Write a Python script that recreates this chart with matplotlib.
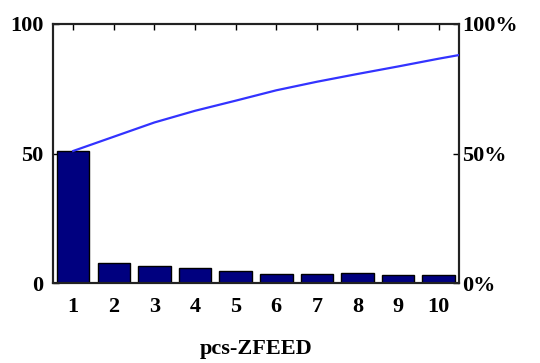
import matplotlib
matplotlib.use("Agg")
import matplotlib.pyplot as plt

# Pareto data for pcs-ZFEED
categories = ["1", "2", "3", "4", "5", "6", "7", "8", "9", "10"]
counts = [51.0, 7.6, 6.7, 5.8, 4.5, 3.7, 3.7, 3.9, 3.0, 3.0]
cum_positions = [1, 2, 3, 4, 5, 6, 7, 8, 9, 10, 10.5]
cum_percent = [51.0, 56.5, 62.0, 66.5, 70.4, 74.4, 77.7, 80.7, 83.6, 86.6, 88.0]
left_ticks = [0, 50, 100]
right_ticks = [0, 50, 100]
right_labels = ["0%", "50%", "100%"]
xlabel = "pcs-ZFEED"

plt.rcParams["font.family"] = ["Liberation Serif", "DejaVu Serif"]
plt.rcParams["font.weight"] = "bold"

fig = plt.figure(figsize=(5.4, 3.63), dpi=100)
ax = fig.add_axes([0.098, 0.22, 0.752, 0.714])

x = list(range(1, len(categories) + 1))
ax.bar(x, counts, width=0.8, color="#00007f", edgecolor="black", linewidth=1.0, zorder=2)

ax.set_xlim(0.5, 10.5)
ax.set_ylim(0, 100)
ax.set_yticks(left_ticks)
ax.set_yticklabels([str(v) for v in left_ticks], fontsize=16, fontweight="bold")
ax.set_xticks(x)
ax.set_xticklabels(categories, fontsize=16, fontweight="bold")
ax.tick_params(axis="x", direction="in", length=0, pad=10)
ax.tick_params(axis="y", direction="in", length=4, width=1, pad=7)
ax.set_xlabel(xlabel, fontsize=16, fontweight="bold", labelpad=16)

# tick marks along the top edge
sec = ax.secondary_xaxis("top")
sec.set_xticks(x)
sec.set_xticklabels([])
sec.tick_params(direction="in", length=4, width=1)
sec.spines["top"].set_visible(False)

ax2 = ax.twinx()
ax2.set_ylim(0, 100)
ax2.plot(cum_positions, cum_percent, color="#3333ff", linewidth=1.6, zorder=3)
ax2.set_yticks(right_ticks)
ax2.set_yticklabels(right_labels, fontsize=16, fontweight="bold")
ax2.tick_params(axis="y", direction="in", length=4, width=1, pad=2)

for a in (ax, ax2):
    for s in a.spines.values():
        s.set_linewidth(1.5)
        s.set_color("#222222")

fig.savefig("out.png", dpi=100)
